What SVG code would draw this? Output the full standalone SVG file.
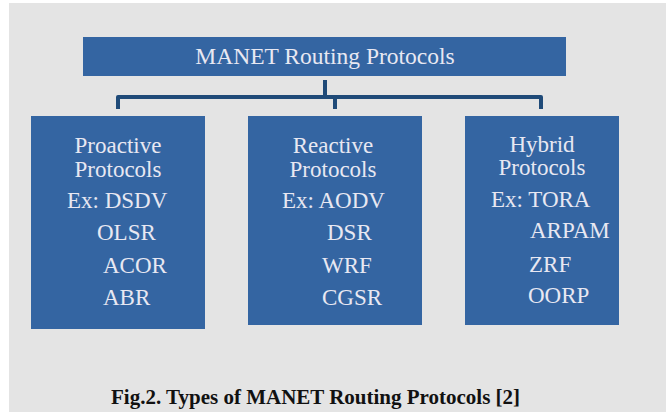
<svg xmlns="http://www.w3.org/2000/svg" width="666" height="412" viewBox="0 0 666 412">
<style>
.bg{fill:#e4e4e4}
.box{fill:#3465a2}
.t{font-family:'Liberation Serif',serif;font-size:23px;fill:#e8e8f2}
.ttl{font-size:23.5px}
.c{text-anchor:middle}
.conn{fill:none;stroke:#1f4a78;stroke-width:4;stroke-linejoin:round}
.cap{font-family:'Liberation Serif',serif;font-size:21px;font-weight:bold;fill:#111}
</style>
<rect x="0" y="0" width="666" height="412" fill="#ffffff"/>
<rect class="bg" x="9" y="3" width="657" height="409"/>
<g id="connectors">
<path class="conn" d="M325,80 V97"/>
<path class="conn" d="M118,109 V97 H541 V109"/>
<path class="conn" d="M335,97 V109"/>
</g>
<g id="root">
<rect class="box" x="83" y="37" width="483" height="39"/>
<text class="t ttl c" x="325" y="64">MANET Routing Protocols</text>
</g>
<g id="proactive">
<rect class="box" x="31" y="116" width="174" height="213"/>
<text class="t c" x="118" y="153">Proactive</text>
<text class="t c" x="118" y="177">Protocols</text>
<text class="t" x="67" y="208">Ex: DSDV</text>
<text class="t" x="97" y="240">OLSR</text>
<text class="t" x="103" y="273">ACOR</text>
<text class="t" x="103" y="305">ABR</text>
</g>
<g id="reactive">
<rect class="box" x="248" y="116" width="174" height="209"/>
<text class="t c" x="333" y="153">Reactive</text>
<text class="t c" x="333" y="177">Protocols</text>
<text class="t" x="282" y="208">Ex: AODV</text>
<text class="t" x="327" y="240">DSR</text>
<text class="t" x="322" y="273">WRF</text>
<text class="t" x="322" y="305">CGSR</text>
</g>
<g id="hybrid">
<rect class="box" x="465" y="116" width="154" height="209"/>
<text class="t c" x="542" y="152">Hybrid</text>
<text class="t c" x="542" y="175">Protocols</text>
<text class="t" x="491" y="207">Ex: TORA</text>
<text class="t" x="530" y="238">ARPAM</text>
<text class="t" x="529" y="272">ZRF</text>
<text class="t" x="528" y="303">OORP</text>
</g>
<text class="cap" x="111" y="404">Fig.2. Types of MANET Routing Protocols [2]</text>
</svg>
